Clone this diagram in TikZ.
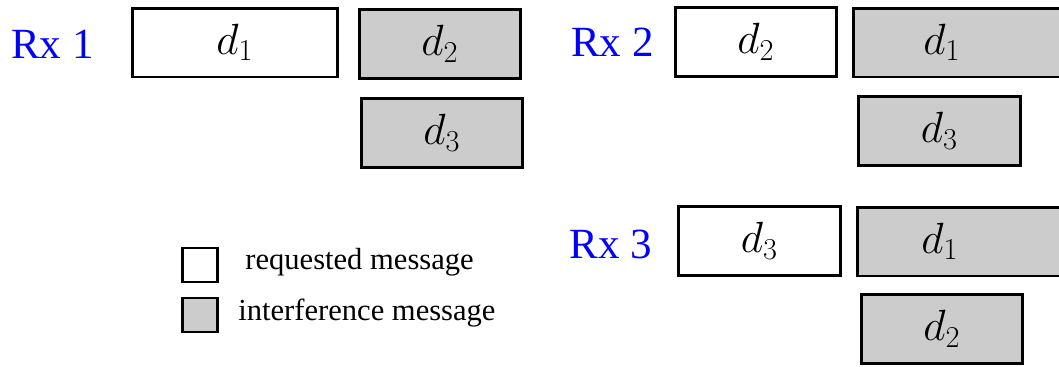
\documentclass[tikz,border=0pt]{standalone}
\usepackage{fontspec}
\setmainfont{Liberation Serif}
\definecolor{boxgray}{RGB}{204,204,204}
\definecolor{rxblue}{RGB}{0,0,255}
\tikzset{
  msgbox/.style={draw=black, line width=1.7pt, rectangle, inner sep=0pt,
    minimum height=1.38cm, font=\fontsize{24}{28}\selectfont},
  reqbox/.style={msgbox, fill=white},
  intbox/.style={msgbox, fill=boxgray},
  rxlabel/.style={text=rxblue, font=\fontsize{24.5}{28}\selectfont, inner sep=0pt},
  legsq/.style={draw=black, line width=1.3pt, rectangle, inner sep=0pt,
    minimum width=0.7cm, minimum height=0.68cm},
  legtext/.style={font=\fontsize{17.4}{20}\selectfont, inner sep=0pt, anchor=west}
}
\begin{document}
\begin{tikzpicture}[x=0.02cm, y=-0.02cm]
\useasboundingbox (0,0) rectangle (1059,366);
\fill[white] (0,0) rectangle (1059,366);
% Rx 1
\node[rxlabel] (rx1) at (52.5,44) {Rx 1};
\node[reqbox, minimum width=4.10cm] (r1d1) at (235,42.5) {$d_1$};
\node[intbox, minimum width=3.22cm] (r1d2) at (440,44) {$d_2$};
\node[intbox, minimum width=3.22cm] (r1d3) at (442,133) {$d_3$};
% Rx 2
\node[rxlabel] (rx2) at (612.5,42.5) {Rx 2};
\node[reqbox, minimum width=3.22cm] (r2d2) at (756,42) {$d_2$};
\node[intbox, minimum width=4.54cm] (r2d1) at (966.5,42.5) {};
\node[font=\fontsize{24}{28}\selectfont, inner sep=0pt] (r2d1t) at (942,42.5) {$d_1$};
\node[intbox, minimum width=3.24cm] (r2d3) at (939.5,131) {$d_3$};
% Rx 3
\node[rxlabel] (rx3) at (611,244) {Rx 3};
\node[reqbox, minimum width=3.24cm] (r3d3) at (759.5,241) {$d_3$};
\node[intbox, minimum width=4.46cm] (r3d1) at (968.5,241.5) {};
\node[font=\fontsize{24}{28}\selectfont, inner sep=0pt] (r3d1t) at (940,241.5) {$d_1$};
\node[intbox, minimum width=3.22cm] (r3d2) at (942,329) {$d_2$};
% Legend
\node[legsq, fill=white] (lreq) at (200,265) {};
\node[legsq, fill=boxgray] (lint) at (200,315) {};
\node[legtext] (lreqt) at (245,262) {requested message};
\node[legtext] (lintt) at (238,313) {interference message};
\end{tikzpicture}
\end{document}
